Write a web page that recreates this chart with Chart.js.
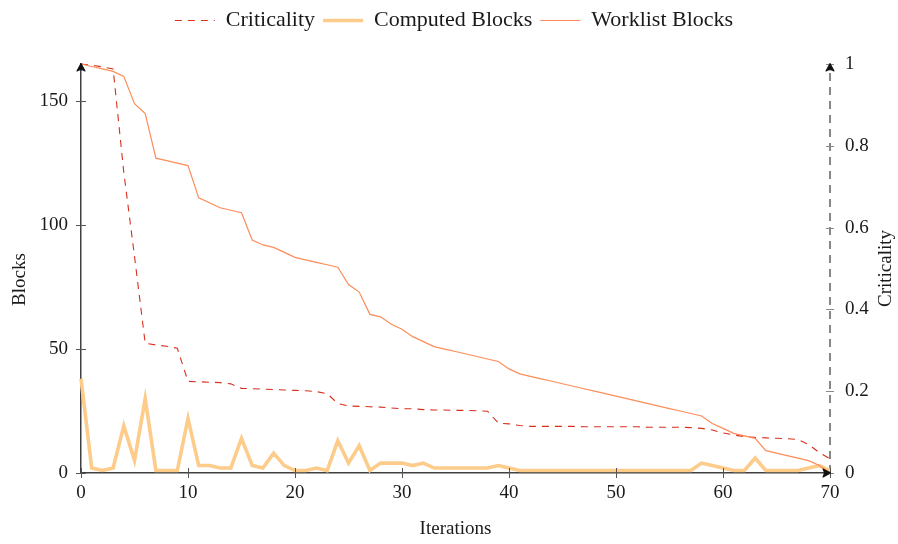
<!DOCTYPE html>
<html>
<head>
<meta charset="utf-8">
<script src="https://cdn.jsdelivr.net/npm/chart.js@4/dist/chart.umd.min.js"></script>
<style>
  html, body { margin: 0; padding: 0; background: #ffffff; }
  #wrap { width: 898px; height: 544px; }
</style>
</head>
<body>
<div id="wrap"><canvas id="chart" width="898" height="544"></canvas></div>
<script>
// Iteration index of the solver loop
const iterations = [
  0, 1, 2, 3, 4, 5, 6, 7, 8, 9,
  10, 11, 12, 13, 14, 15, 16, 17, 18, 19,
  20, 21, 22, 23, 24, 25, 26, 27, 28, 29,
  30, 31, 32, 33, 34, 35, 36, 37, 38, 39,
  40, 41, 42, 43, 44, 45, 46, 47, 48, 49,
  50, 51, 52, 53, 54, 55, 56, 57, 58, 59,
  60, 61, 62, 63, 64, 65, 66, 67, 68, 69,
  70
];

// Normalised criticality per iteration (right axis)
const criticality = [
  1.000, 0.997, 0.993, 0.988, 0.735, 0.530, 0.317, 0.313, 0.310, 0.305,
  0.224, 0.223, 0.222, 0.221, 0.218, 0.207, 0.206, 0.205, 0.204, 0.203,
  0.202, 0.201, 0.199, 0.194, 0.170, 0.164, 0.163, 0.162, 0.161, 0.159,
  0.157, 0.157, 0.155, 0.154, 0.154, 0.153, 0.153, 0.152, 0.151, 0.122,
  0.120, 0.116, 0.114, 0.114, 0.114, 0.114, 0.114, 0.113, 0.113, 0.113,
  0.113, 0.113, 0.113, 0.112, 0.112, 0.112, 0.112, 0.111, 0.109, 0.105,
  0.098, 0.093, 0.089, 0.087, 0.086, 0.085, 0.084, 0.082, 0.070, 0.050,
  0.035
];

// Blocks recomputed in each iteration
const computedBlocks = [
  38, 2, 1, 2, 19, 5, 30, 1, 1, 1,
  22, 3, 3, 2, 2, 14, 3, 2, 8, 3,
  1, 1, 2, 1, 13, 4, 11, 1, 4, 4,
  4, 3, 4, 2, 2, 2, 2, 2, 2, 3,
  2, 1, 1, 1, 1, 1, 1, 1, 1, 1,
  1, 1, 1, 1, 1, 1, 1, 1, 4, 3,
  2, 1, 1, 6, 1, 1, 1, 1, 2, 3,
  1
];

// Blocks still waiting on the worklist
const worklistBlocks = [
  165, 164, 163, 162, 160, 149, 145, 127, 126, 125,
  124, 111, 109, 107, 106, 105, 94, 92, 91, 89,
  87, 86, 85, 84, 83, 76, 73, 64, 63, 60,
  58, 55, 53, 51, 50, 49, 48, 47, 46, 45,
  42, 40, 39, 38, 37, 36, 35, 34, 33, 32,
  31, 30, 29, 28, 27, 26, 25, 24, 23, 20,
  18, 16, 15, 14, 9, 8, 7, 6, 5, 3,
  0
];

const iterationTicks = [0, 10, 20, 30, 40, 50, 60, 70];
const blockTicks = [0, 50, 100, 150];
const criticalityTicks = [0, 0.2, 0.4, 0.6, 0.8, 1];

const FONT = '"Liberation Serif", "DejaVu Serif", serif';
const TEXT = '#1a1a1a';
const AXIS = '#404040';

const toPoints = (values) => iterations.map((it, i) => ({ x: it, y: values[i] }));
const fixedTicks = (list) => (scale) => { scale.ticks = list.map(v => ({ value: v })); };

// Axis decorations: dashed right axis, crossing tick marks, arrow heads, titles, legend
const decor = {
  id: 'decor',
  beforeDatasetsDraw(chart) {
    const { ctx, chartArea: a } = chart;
    ctx.save();
    ctx.strokeStyle = '#555';
    ctx.lineWidth = 1.4;
    ctx.setLineDash([8, 6]);
    ctx.beginPath();
    ctx.moveTo(a.right, a.bottom);
    ctx.lineTo(a.right, a.top + 2);
    ctx.stroke();
    ctx.restore();
  },
  afterDatasetsDraw(chart) {
    const { ctx, chartArea: a, scales } = chart;
    const x = scales.x, y = scales.y, y1 = scales.y1;
    ctx.save();

    // tick marks crossing the axes
    ctx.lineWidth = 1;
    ctx.strokeStyle = '#555';
    ctx.beginPath();
    blockTicks.forEach(v => {
      const py = Math.round(y.getPixelForValue(v)) + 0.5;
      ctx.moveTo(a.left - 5, py); ctx.lineTo(a.left + 5, py);
    });
    iterationTicks.forEach(v => {
      const px = Math.round(x.getPixelForValue(v)) + 0.5;
      ctx.moveTo(px, a.bottom - 5); ctx.lineTo(px, a.bottom + 5);
    });
    ctx.stroke();
    ctx.strokeStyle = '#8a8a8a';
    ctx.beginPath();
    criticalityTicks.forEach(v => {
      const py = Math.round(y1.getPixelForValue(v)) + 0.5;
      ctx.moveTo(a.right - 4, py); ctx.lineTo(a.right + 4, py);
    });
    ctx.stroke();

    // arrow heads at the axis ends
    const arrow = (tx, ty, angle) => {
      ctx.save();
      ctx.translate(tx, ty);
      ctx.rotate(angle);
      ctx.strokeStyle = '#111';
      ctx.fillStyle = '#111';
      ctx.lineWidth = 1.1;
      ctx.lineJoin = 'round';
      ctx.beginPath();
      ctx.moveTo(0.5, 0);
      ctx.lineTo(-7, -4);
      ctx.quadraticCurveTo(-4.5, 0, -7, 4);
      ctx.closePath();
      ctx.fill();
      ctx.stroke();
      ctx.restore();
    };
    arrow(a.left, a.top, -Math.PI / 2);
    arrow(a.right, a.top, -Math.PI / 2);
    arrow(a.right, a.bottom, 0);

    // axis titles
    ctx.fillStyle = TEXT;
    ctx.font = '19px ' + FONT;
    ctx.textAlign = 'center';
    ctx.textBaseline = 'middle';
    ctx.fillText('Iterations', (a.left + a.right) / 2, 529);
    ctx.save();
    ctx.translate(20, (a.top + a.bottom) / 2 + 11);
    ctx.rotate(-Math.PI / 2);
    ctx.fillText('Blocks', 0, 0);
    ctx.restore();
    ctx.save();
    ctx.translate(886, (a.top + a.bottom) / 2);
    ctx.rotate(-Math.PI / 2);
    ctx.fillText('Criticality', 0, 0);
    ctx.restore();

    // legend row
    ctx.font = '22px ' + FONT;
    const lineLen = 40, gapText = 11, gapItem = 8;
    const items = chart.data.datasets.map(ds => ({ ds, w: ctx.measureText(ds.label).width }));
    const total = items.reduce((s, it) => s + lineLen + gapText + it.w, 0) + gapItem * (items.length - 1);
    let cx = 454 - total / 2;
    const ly = 20;
    items.forEach(({ ds, w }) => {
      ctx.save();
      ctx.strokeStyle = ds.borderColor;
      ctx.lineWidth = ds.borderWidth;
      ctx.setLineDash(ds.borderDash || []);
      ctx.beginPath();
      ctx.moveTo(cx, ly + 0.5); ctx.lineTo(cx + lineLen, ly + 0.5);
      ctx.stroke();
      ctx.restore();
      ctx.fillStyle = TEXT;
      ctx.textAlign = 'left';
      ctx.fillText(ds.label, cx + lineLen + gapText, ly);
      cx += lineLen + gapText + w + gapItem;
    });
    ctx.restore();
  }
};

new Chart(document.getElementById('chart'), {
  type: 'line',
  data: {
    datasets: [
      {
        label: 'Criticality',
        data: toPoints(criticality),
        yAxisID: 'y1',
        borderColor: '#d7301f',
        borderWidth: 1.1,
        borderDash: [7, 6],
        pointRadius: 0,
        tension: 0,
        fill: false,
        order: 2,
        clip: false
      },
      {
        label: 'Computed Blocks',
        data: toPoints(computedBlocks),
        yAxisID: 'y',
        borderColor: '#fdcc8a',
        borderWidth: 3.6,
        pointRadius: 0,
        tension: 0,
        fill: false,
        order: 1,
        clip: false
      },
      {
        label: 'Worklist Blocks',
        data: toPoints(worklistBlocks),
        yAxisID: 'y',
        borderColor: '#fc8d59',
        borderWidth: 1.2,
        pointRadius: 0,
        tension: 0,
        fill: false,
        order: 0,
        clip: false
      }
    ]
  },
  options: {
    responsive: false,
    animation: false,
    devicePixelRatio: 1,
    layout: { padding: { top: 64, left: 0, right: 0, bottom: 0 } },
    plugins: {
      legend: { display: false },
      tooltip: { enabled: false }
    },
    scales: {
      x: {
        type: 'linear',
        position: 'bottom',
        min: 0,
        max: 70,
        afterBuildTicks: fixedTicks(iterationTicks),
        afterFit: (s) => { s.height = 71; },
        grid: { display: false, drawTicks: false },
        border: { display: true, color: AXIS, width: 1.5 },
        ticks: { color: TEXT, font: { family: FONT, size: 19 }, padding: 9, maxRotation: 0 }
      },
      y: {
        type: 'linear',
        position: 'left',
        min: 0,
        max: 165,
        afterBuildTicks: fixedTicks(blockTicks),
        afterFit: (s) => { s.width = 81; },
        grid: { display: false, drawTicks: false },
        border: { display: true, color: AXIS, width: 1.5 },
        ticks: { color: TEXT, font: { family: FONT, size: 19 }, padding: 13 }
      },
      y1: {
        type: 'linear',
        position: 'right',
        min: 0,
        max: 1,
        afterBuildTicks: fixedTicks(criticalityTicks),
        afterFit: (s) => { s.width = 68; },
        grid: { display: false, drawTicks: false },
        border: { display: false },
        ticks: { color: TEXT, font: { family: FONT, size: 19 }, padding: 15, callback: (v) => String(v) }
      }
    }
  },
  plugins: [decor]
});
</script>
</body>
</html>
